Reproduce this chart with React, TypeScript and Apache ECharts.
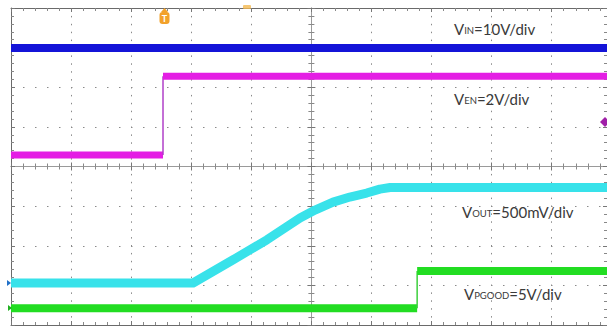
import React, { useEffect, useRef } from "react";
import * as echarts from "echarts";

// Scope screen in divisions: x from -5 (left edge) to ~4.92 (crop edge), y from -4 to 4
const X_MIN = -5;
const X_MAX = 4.92;
const Y_MIN = -4;
const Y_MAX = 4;

// VIN trace (blue)
const VIN = [[-5, 2.99], [4.92, 2.99]];
// VEN trace (magenta)
const VEN_LOW = [[-5, 0.29], [-2.47, 0.29]];
const VEN_EDGE = [[-2.47, 0.29], [-2.47, 2.28]];
const VEN_HIGH = [[-2.47, 2.28], [4.92, 2.28]];
// VOUT trace (cyan)
const VOUT = [
  [-5, -2.94], [-1.97, -2.94], [-1.31, -2.36], [-0.74, -1.85], [-0.19, -1.3],
  [0.06, -1.1], [0.36, -0.9], [0.64, -0.77], [0.92, -0.67], [1.14, -0.57],
  [1.31, -0.53], [4.92, -0.53],
];
// VPGOOD trace (green)
const PG_LOW = [[-5, -3.58], [1.76, -3.58]];
const PG_EDGE = [[1.76, -3.58], [1.76, -2.64]];
const PG_HIGH = [[1.76, -2.64], [4.92, -2.64]];

// Channel scale labels
const LABELS = [
  { v: "V", sub: "IN", rest: "=10V/div", x: 454, y: 28 },
  { v: "V", sub: "EN", rest: "=2V/div", x: 454, y: 98 },
  { v: "V", sub: "OUT", rest: "=500mV/div", x: 462, y: 211 },
  { v: "V", sub: "PGOOD", rest: "=5V/div", x: 464, y: 293 },
];

const GRID_COLOR = "#8a8a8a";

function mkAxis(extra: any) {
  return {
    type: "value",
    interval: 1,
    axisLabel: { show: false },
    splitLine: { show: false },
    axisTick: { show: false },
    minorTick: { show: false },
    axisLine: { show: false, onZero: false },
    ...extra,
  };
}

function tickedAxis(min: number, max: number, position: string, onZero: boolean, split: any) {
  return mkAxis({
    min,
    max,
    position,
    axisLine: { show: true, onZero, lineStyle: { color: onZero ? "#9a9a9a" : "#6a6a6a", width: 1 } },
    axisTick: { show: true, inside: true, length: 4, lineStyle: { color: "#777" } },
    minorTick: { show: true, splitNumber: 5, length: 3, lineStyle: { color: "#888" } },
    splitLine: split,
  });
}

export default function App() {
  const ref = useRef<HTMLDivElement>(null);
  useEffect(() => {
    if (!ref.current) return;
    const chart = echarts.init(ref.current, null, { renderer: "svg" });
    const line = (data: number[][], color: string, width: number, z = 2) => ({
      type: "line",
      data,
      xAxisIndex: 0,
      yAxisIndex: 0,
      showSymbol: false,
      symbol: "none",
      lineStyle: { color, width, cap: "butt", join: "round" },
      z,
      silent: true,
    });
    const rich = {
      a: { fontSize: 15, fontFamily: "Lato", fill: "#3a3a3a", verticalAlign: "bottom", lineHeight: 17 },
      b: { fontSize: 9.5, fontFamily: "Lato", fill: "#3a3a3a", verticalAlign: "bottom", lineHeight: 17, padding: [0, 0, 1, 0] },
    };
    chart.setOption({
      animation: false,
      backgroundColor: "#ffffff",
      grid: { left: 11, right: 0, top: 8, bottom: 2, show: false },
      xAxis: [
        tickedAxis(X_MIN, X_MAX, "bottom", false, {
          show: true,
          lineStyle: { color: GRID_COLOR, type: [1.5, 6.4], width: 1 },
        }),
        tickedAxis(X_MIN, X_MAX, "top", false, { show: false }),
        tickedAxis(X_MIN, X_MAX, "bottom", true, { show: false }),
        tickedAxis(X_MIN, X_MAX, "top", true, { show: false }),
      ],
      yAxis: [
        tickedAxis(Y_MIN, Y_MAX, "left", false, {
          show: true,
          lineStyle: { color: GRID_COLOR, type: [1.5, 10.5], width: 1 },
        }),
        tickedAxis(Y_MIN, Y_MAX, "right", false, { show: false }),
        tickedAxis(Y_MIN, Y_MAX, "left", true, { show: false }),
        tickedAxis(Y_MIN, Y_MAX, "right", true, { show: false }),
      ],
      series: [
        line(VIN, "#1414d8", 8),
        line(VEN_LOW, "#e41ee4", 7),
        line(VEN_EDGE, "#b040c8", 1.5),
        line(VEN_HIGH, "#e41ee4", 7),
        line(VOUT, "#38e2ea", 9),
        line(PG_LOW, "#22dd22", 8),
        line(PG_EDGE, "#3ccf3c", 1.5),
        line(PG_HIGH, "#22dd22", 8),
      ],
      graphic: [
        ...LABELS.map((l) => ({
          type: "text",
          x: l.x,
          y: l.y,
          z: 100,
          style: {
            text: `{a|${l.v}}{b|${l.sub}}{a|${l.rest}}`,
            rich,
            verticalAlign: "middle",
            align: "left",
          },
        })),
        // trigger position badge
        {
          type: "rect",
          shape: { x: 159.5, y: 12, width: 10, height: 12, r: 3 },
          style: { fill: "#f2a12a" },
          z: 100,
        },
        {
          type: "polygon",
          shape: { points: [[161, 12], [164.5, 8], [168, 12]] },
          style: { fill: "#f2a12a" },
          z: 100,
        },
        {
          type: "text",
          x: 164.5,
          y: 18.5,
          z: 101,
          style: { text: "T", fill: "#ffffff", font: "bold 9px Lato", align: "center", verticalAlign: "middle" },
        },
        // trigger level mark at top
        {
          type: "rect",
          shape: { x: 243, y: 5, width: 8, height: 4, r: 1 },
          style: { fill: "#f2b850", opacity: 0.8 },
          z: 100,
        },
        // VEN level marker at right edge
        {
          type: "polygon",
          shape: { points: [[600, 122], [605, 117], [610, 122], [605, 127]] },
          style: { fill: "#a020a8" },
          z: 100,
        },
        // left channel markers
        {
          type: "polygon",
          shape: { points: [[7, 280], [11, 283], [7, 286]] },
          style: { fill: "#2070c8" },
          z: 100,
        },
        {
          type: "polygon",
          shape: { points: [[8, 305], [12, 308], [8, 311]] },
          style: { fill: "#20b020" },
          z: 100,
        },
      ],
    });
    return () => chart.dispose();
  }, []);
  return (
    <div
      ref={ref}
      style={{ position: "absolute", left: 0, top: 0, width: 607, height: 327, background: "#fff" }}
    />
  );
}
